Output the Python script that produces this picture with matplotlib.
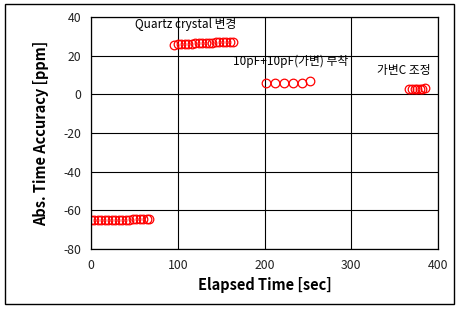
import matplotlib
matplotlib.use("Agg")
import matplotlib.pyplot as plt
from matplotlib.patches import Rectangle

plt.rcParams['font.family'] = ['Noto Sans CJK KR', 'DejaVu Sans']
plt.rcParams['axes.unicode_minus'] = False

# Data
t1 = [0, 4, 8, 12, 16, 20, 24, 28, 32, 36, 40, 44, 48, 52, 56, 60, 64, 67]
v1 = [-65.2, -65.2, -65.1, -65.1, -65.0, -65.0, -65.0, -64.9, -64.9, -64.9, -64.8, -64.8, -64.6, -64.5, -64.4, -64.4, -64.3, -64.3]
t2 = [96, 100, 104, 108, 112, 116, 120, 124, 128, 132, 136, 140, 144, 148, 152, 156, 160, 164]
v2 = [25.7, 25.8, 25.9, 26.0, 26.1, 26.2, 26.3, 26.4, 26.5, 26.6, 26.7, 26.8, 26.9, 27.0, 27.1, 27.2, 27.2, 27.3]
t3 = [202, 212, 222, 233, 243, 253]
v3 = [6.0, 6.0, 6.0, 6.0, 6.1, 6.7]
t4 = [367, 370, 373, 376, 379, 382, 385]
v4 = [3.0, 3.0, 3.0, 3.0, 3.0, 3.0, 3.1]

annotations = [("Quartz crystal 변경", 51, 36.0),
               ("10pF+10pF(가변) 부착", 164, 16.8),
               ("가변C 조정", 330, 12.4)]

x_ticks = [0, 100, 200, 300, 400]
y_ticks = [-80, -60, -40, -20, 0, 20, 40]

fig = plt.figure(figsize=(4.62, 3.11), dpi=100)
ax = fig.add_axes([91/462, 1-249/311, (438-91)/462, (249-17)/311])

for t, v in [(t1, v1), (t2, v2), (t3, v3), (t4, v4)]:
    ax.plot(t, v, linestyle='none', marker='o', markersize=6.2,
            markerfacecolor='none', markeredgecolor='#ff0000', markeredgewidth=0.9)

for txt, x, y in annotations:
    ax.text(x, y, txt, fontsize=8.5, ha='left', va='center', color='black')

ax.set_xlim(0, 400)
ax.set_ylim(-80, 40)
ax.set_xticks(x_ticks)
ax.set_yticks(y_ticks)
ax.grid(True, color='black', linewidth=0.8)
ax.set_axisbelow(True)
for s in ax.spines.values():
    s.set_linewidth(0.9)
ax.tick_params(length=0, labelsize=8.8, pad=7, colors='#222222')
ax.set_xlabel("Elapsed Time [sec]", fontsize=10.5, fontweight='bold', labelpad=4)
ax.set_ylabel("Abs. Time Accuracy [ppm]", fontsize=10.5, fontweight='bold', labelpad=10)

fig.patches.append(Rectangle((5/462, 1-304/311), (454-5)/462, (304-4)/311,
                             transform=fig.transFigure, fill=False,
                             edgecolor='black', linewidth=1.0))

fig.savefig("out.png", dpi=100)
